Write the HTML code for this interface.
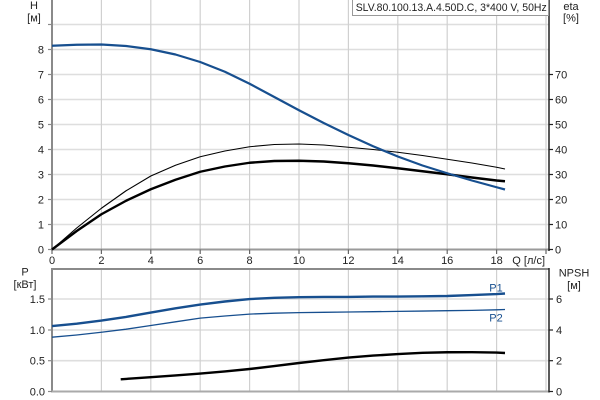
<!DOCTYPE html>
<html><head><meta charset="utf-8"><style>
html,body{margin:0;padding:0;background:#fff;}
svg{display:block;}
text{font-family:"Liberation Sans",Arial,sans-serif;font-size:11px;fill:#222;}
</style></head><body>
<svg width="600" height="400" viewBox="0 0 600 400" xmlns="http://www.w3.org/2000/svg">
<rect width="600" height="400" fill="#fff"/>
<!-- top chart horizontal grid -->
<g stroke="#dedede" stroke-width="1.6">
<line x1="52" y1="24.5" x2="549" y2="24.5"/>
<line x1="52" y1="49.5" x2="549" y2="49.5"/>
<line x1="52" y1="74.5" x2="549" y2="74.5"/>
<line x1="52" y1="99.5" x2="549" y2="99.5"/>
<line x1="52" y1="124.5" x2="549" y2="124.5"/>
<line x1="52" y1="149.5" x2="549" y2="149.5"/>
<line x1="52" y1="174.5" x2="549" y2="174.5"/>
<line x1="52" y1="199.5" x2="549" y2="199.5"/>
<line x1="52" y1="224.5" x2="549" y2="224.5"/>
</g>
<g stroke="#d0d0d0" stroke-width="1.2">
<line x1="101.4" y1="0" x2="101.4" y2="249.5"/>
<line x1="150.8" y1="0" x2="150.8" y2="249.5"/>
<line x1="200.2" y1="0" x2="200.2" y2="249.5"/>
<line x1="249.6" y1="0" x2="249.6" y2="249.5"/>
<line x1="299" y1="0" x2="299" y2="249.5"/>
<line x1="348.4" y1="0" x2="348.4" y2="249.5"/>
<line x1="397.8" y1="0" x2="397.8" y2="249.5"/>
<line x1="447.2" y1="0" x2="447.2" y2="249.5"/>
<line x1="496.6" y1="0" x2="496.6" y2="249.5"/>
<line x1="546" y1="0" x2="546" y2="249.5"/>
</g>
<!-- bottom chart grid -->
<g stroke="#dedede" stroke-width="1.6">
<line x1="52" y1="299" x2="549" y2="299"/>
<line x1="52" y1="330" x2="549" y2="330"/>
<line x1="52" y1="360.7" x2="549" y2="360.7"/>
</g>
<g stroke="#d0d0d0" stroke-width="1.2">
<line x1="101.4" y1="269" x2="101.4" y2="391.5"/>
<line x1="150.8" y1="269" x2="150.8" y2="391.5"/>
<line x1="200.2" y1="269" x2="200.2" y2="391.5"/>
<line x1="249.6" y1="269" x2="249.6" y2="391.5"/>
<line x1="299" y1="269" x2="299" y2="391.5"/>
<line x1="348.4" y1="269" x2="348.4" y2="391.5"/>
<line x1="397.8" y1="269" x2="397.8" y2="391.5"/>
<line x1="447.2" y1="269" x2="447.2" y2="391.5"/>
<line x1="496.6" y1="269" x2="496.6" y2="391.5"/>
<line x1="546" y1="269" x2="546" y2="391.5"/>
</g>

<!-- top chart axes -->
<line x1="52" y1="0" x2="52" y2="250.5" stroke="#8a8a8a" stroke-width="2"/>
<line x1="51" y1="249.5" x2="549" y2="249.5" stroke="#9a9a9a" stroke-width="2"/>
<line x1="549" y1="0" x2="549" y2="251" stroke="#222" stroke-width="1.5"/>
<!-- left ticks top -->
<g stroke="#8a8a8a" stroke-width="1.2">
<line x1="48" y1="24.5" x2="52" y2="24.5"/><line x1="48" y1="49.5" x2="52" y2="49.5"/>
<line x1="48" y1="74.5" x2="52" y2="74.5"/><line x1="48" y1="99.5" x2="52" y2="99.5"/>
<line x1="48" y1="124.5" x2="52" y2="124.5"/><line x1="48" y1="149.5" x2="52" y2="149.5"/>
<line x1="48" y1="174.5" x2="52" y2="174.5"/><line x1="48" y1="199.5" x2="52" y2="199.5"/>
<line x1="48" y1="224.5" x2="52" y2="224.5"/><line x1="48" y1="249.5" x2="52" y2="249.5"/>
</g>
<g stroke="#666" stroke-width="1.2">
<line x1="52" y1="249.5" x2="52" y2="254"/><line x1="101.4" y1="249.5" x2="101.4" y2="254"/>
<line x1="150.8" y1="249.5" x2="150.8" y2="254"/><line x1="200.2" y1="249.5" x2="200.2" y2="254"/>
<line x1="249.6" y1="249.5" x2="249.6" y2="254"/><line x1="299" y1="249.5" x2="299" y2="254"/>
<line x1="348.4" y1="249.5" x2="348.4" y2="254"/><line x1="397.8" y1="249.5" x2="397.8" y2="254"/>
<line x1="447.2" y1="249.5" x2="447.2" y2="254"/><line x1="496.6" y1="249.5" x2="496.6" y2="254"/>
<line x1="546" y1="249.5" x2="546" y2="254"/>
</g>
<!-- right ticks top -->
<g stroke="#222" stroke-width="1.2">
<line x1="549" y1="74.5" x2="553" y2="74.5"/><line x1="549" y1="99.5" x2="553" y2="99.5"/>
<line x1="549" y1="124.5" x2="553" y2="124.5"/><line x1="549" y1="149.5" x2="553" y2="149.5"/>
<line x1="549" y1="174.5" x2="553" y2="174.5"/><line x1="549" y1="199.5" x2="553" y2="199.5"/>
<line x1="549" y1="224.5" x2="553" y2="224.5"/><line x1="549" y1="249.5" x2="553" y2="249.5"/>
</g>

<!-- bottom chart axes -->
<line x1="52" y1="269" x2="549" y2="269" stroke="#8a8a8a" stroke-width="2"/>
<line x1="52" y1="268" x2="52" y2="392.5" stroke="#8a8a8a" stroke-width="2"/>
<line x1="51" y1="391.5" x2="549" y2="391.5" stroke="#aaa" stroke-width="2"/>
<line x1="549" y1="268" x2="549" y2="392.5" stroke="#222" stroke-width="1.5"/>
<g stroke="#8a8a8a" stroke-width="1.2">
<line x1="48" y1="299" x2="52" y2="299"/><line x1="48" y1="330" x2="52" y2="330"/>
<line x1="48" y1="360.7" x2="52" y2="360.7"/><line x1="48" y1="391.5" x2="52" y2="391.5"/>
</g>
<g stroke="#222" stroke-width="1.2">
<line x1="549" y1="299" x2="553" y2="299"/><line x1="549" y1="330" x2="553" y2="330"/>
<line x1="549" y1="360.7" x2="553" y2="360.7"/><line x1="549" y1="391.5" x2="553" y2="391.5"/>
</g>

<!-- curves top -->
<polyline fill="none" stroke="#000" stroke-width="1.1" stroke-linejoin="round" points="52,249.5 76.7,228 101.4,208.25 126.1,190.75 150.8,176 175.5,165.25 200.2,156.75 224.9,151 249.6,146.75 274.3,144.5 299,144 323.7,145 348.4,147.25 373.1,149.5 397.8,152.25 422.5,155.5 447.2,159.25 471.9,163 496.6,167.25 505,169"/>
<polyline fill="none" stroke="#000" stroke-width="2.4" stroke-linejoin="round" points="52,249.5 76.7,231 101.4,214.25 126.1,200.75 150.8,189.25 175.5,179.75 200.2,171.75 224.9,166.5 249.6,162.75 274.3,161 299,160.75 323.7,161.5 348.4,163.25 373.1,165.5 397.8,168.25 422.5,171.25 447.2,174.25 471.9,177.5 496.6,180.5 505,181.25"/>
<polyline fill="none" stroke="#174f8f" stroke-width="2.2" stroke-linejoin="round" points="52,45.75 76.7,44.75 101.4,44.5 126.1,46 150.8,49.25 175.5,54.5 200.2,62 224.9,71.75 249.6,83.75 274.3,97 299,110.25 323.7,123 348.4,135 373.1,146.25 397.8,156.5 422.5,165.5 447.2,173.25 471.9,180.5 496.6,187.25 505,189.5"/>

<!-- curves bottom -->
<polyline fill="none" stroke="#174f8f" stroke-width="2.4" stroke-linejoin="round" points="52,326.1 76.7,323.65 101.4,320.6 126.1,316.9 150.8,312.6 175.5,308.3 200.2,304.6 224.9,301.5 249.6,299.05 274.3,297.8 299,297.2 323.7,296.9 348.4,296.9 373.1,296.6 397.8,296.6 422.5,296.3 447.2,296 471.9,295.05 496.6,294.1 505,293.5"/>
<polyline fill="none" stroke="#174f8f" stroke-width="1.3" stroke-linejoin="round" points="52,337.2 76.7,335 101.4,332.26 126.1,329.2 150.8,325.5 175.5,321.8 200.2,318.1 224.9,316 249.6,314.1 274.3,313.2 299,312.6 323.7,312.3 348.4,312 373.1,311.7 397.8,311.35 422.5,311.05 447.2,310.7 471.9,310.4 496.6,309.8 505,309.5"/>
<polyline fill="none" stroke="#000" stroke-width="2.4" stroke-linejoin="round" points="120.7,379.3 150.8,377.15 175.5,375.46 200.2,373.6 224.9,371.46 249.6,369 274.3,366.08 299,363 323.7,360.23 348.4,357.6 373.1,355.6 397.8,354.08 422.5,352.85 447.2,352.24 471.9,352.16 496.6,352.54 505,353"/>

<!-- title box -->
<rect x="352.5" y="-1" width="196" height="16.5" fill="#fff" stroke="#999" stroke-width="1"/>
<text x="355.7" y="11" textLength="191" lengthAdjust="spacingAndGlyphs">SLV.80.100.13.A.4.50D.C, 3*400 V, 50Hz</text>

<!-- top left labels -->
<text x="34" y="9" text-anchor="middle">H</text>
<text x="34" y="21.5" text-anchor="middle">[м]</text>
<g text-anchor="end">
<text x="44" y="53.5">8</text><text x="44" y="78.5">7</text><text x="44" y="103.5">6</text>
<text x="44" y="128.5">5</text><text x="44" y="153.5">4</text><text x="44" y="178.5">3</text>
<text x="44" y="203.5">2</text><text x="44" y="228.5">1</text><text x="44" y="253.5">0</text>
</g>
<!-- right labels top -->
<text x="571" y="10" text-anchor="middle">eta</text>
<text x="571" y="21.5" text-anchor="middle">[%]</text>
<g>
<text x="555" y="78.5">70</text><text x="555" y="103.5">60</text><text x="555" y="128.5">50</text>
<text x="555" y="153.5">40</text><text x="555" y="178.5">30</text><text x="555" y="203.5">20</text>
<text x="555" y="228.5">10</text><text x="555" y="253.5">0</text>
</g>
<!-- x labels -->
<g text-anchor="middle">
<text x="52" y="264">0</text><text x="101.4" y="264">2</text><text x="150.8" y="264">4</text>
<text x="200.2" y="264">6</text><text x="249.6" y="264">8</text><text x="299" y="264">10</text>
<text x="348.4" y="264">12</text><text x="397.8" y="264">14</text><text x="447.2" y="264">16</text>
<text x="496.6" y="264">18</text>
</g>
<text x="545" y="264" text-anchor="end">Q [л/с]</text>

<!-- bottom labels -->
<text x="25" y="275.5" text-anchor="middle">P</text>
<text x="25" y="288" text-anchor="middle">[кВт]</text>
<g text-anchor="end">
<text x="45" y="303">1.5</text><text x="45" y="334">1.0</text>
<text x="45" y="364.7">0.5</text><text x="45" y="395.5">0.0</text>
</g>
<text x="574" y="276.5" text-anchor="middle">NPSH</text>
<text x="574" y="289" text-anchor="middle">[м]</text>
<g>
<text x="556" y="303">6</text><text x="556" y="334">4</text>
<text x="556" y="364.7">2</text><text x="556" y="395.5">0</text>
</g>
<text x="496" y="291.5" text-anchor="middle" style="fill:#174f8f">P1</text>
<text x="496" y="321.5" text-anchor="middle" style="fill:#174f8f">P2</text>
</svg>
</body></html>
